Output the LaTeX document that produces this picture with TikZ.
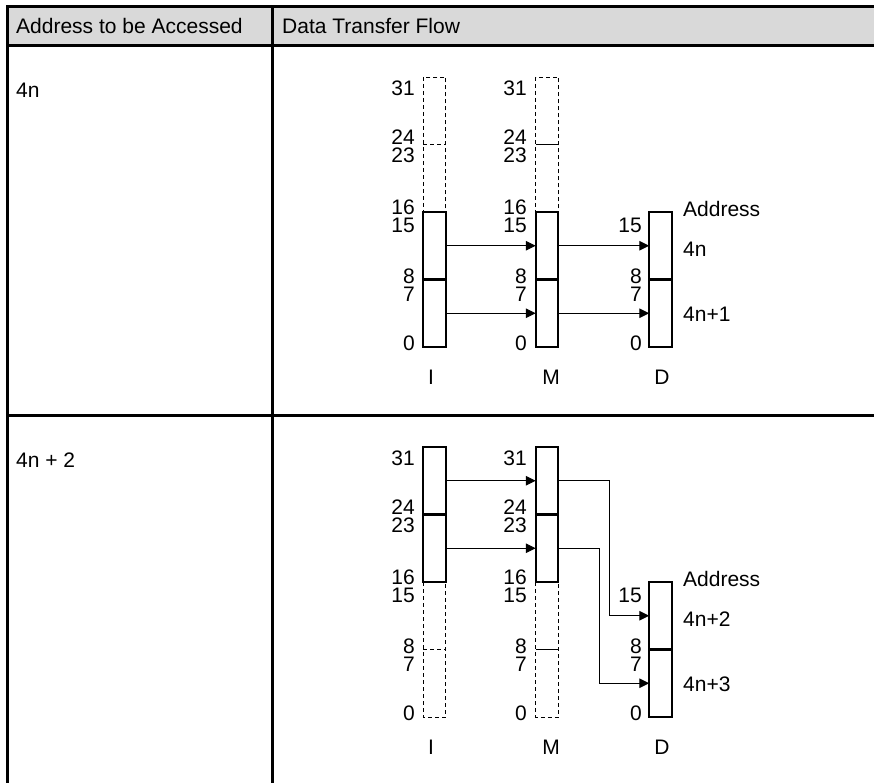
\documentclass[tikz,border=0pt]{standalone}
\usepackage{fontspec}
\setmainfont{Liberation Sans}
\usetikzlibrary{arrows.meta}
\definecolor{hdrgray}{HTML}{D9D9D9}
\begin{document}
\begin{tikzpicture}[x=1pt,y=-1pt,
  txt/.style={inner sep=0pt,font=\fontsize{21}{25}\selectfont},
  seg/.style={draw,line width=2.2pt,minimum width=22.5pt,minimum height=67.5pt,inner sep=0pt,outer sep=0pt},
  hseg/.style={draw=none,minimum width=22.5pt,minimum height=67.5pt,inner sep=0pt,outer sep=0pt},
  dln/.style={line width=0.9pt,dash pattern=on 4pt off 3pt},
  thinln/.style={line width=0.9pt},
  arr/.style={line width=1pt,-{Triangle[length=10pt,width=9.5pt]}},
  tline/.style={line width=3pt}]
\useasboundingbox (0,0) rectangle (874,783);
% table
\fill[hdrgray] (7,7) rectangle (880,45.5);
\draw[tline] (7,7) -- (880,7);
\draw[tline] (7,45.5) -- (880,45.5);
\draw[tline] (7,415) -- (880,415);
\draw[tline] (7,5.5) -- (7,790);
\draw[tline] (272,7) -- (272,790);
\node[txt,anchor=west] (h1) at (16,26) {Address to be Accessed};
\node[txt,anchor=west] (h2) at (282,26) {Data Transfer Flow};
\node[txt,anchor=west] (r1) at (16,90.5) {4n};
\node[txt,anchor=west] (r2) at (16,460) {4n + 2};

% ---------- row 1 ----------
\node[hseg] (I1d) at (434.5,110.75) {};
\node[hseg] (I1c) at (434.5,178.25) {};
\node[hseg] (M1d) at (547,110.75) {};
\node[hseg] (M1c) at (547,178.25) {};
\draw[dln] (I1d.north west) rectangle (I1c.south east);
\draw[dln] (I1d.south west) -- (I1d.south east);
\draw[dln] (M1d.north west) rectangle (M1c.south east);
\draw[thinln] (M1d.south west) -- (M1d.south east);
\node[seg] (I1b) at (434.5,245.75) {};
\node[seg] (I1a) at (434.5,313.25) {};
\node[seg] (M1b) at (547,245.75) {};
\node[seg] (M1a) at (547,313.25) {};
\node[seg] (D1b) at (660.5,245.75) {};
\node[seg] (D1a) at (660.5,313.25) {};
\draw[arr] (I1b.east) -- (M1b.west);
\draw[arr] (I1a.east) -- (M1a.west);
\draw[arr] (M1b.east) -- (D1b.west);
\draw[arr] (M1a.east) -- (D1a.west);
% bit labels row 1
\foreach \xx/\nm in {415/I,527/M}{
  \node[txt,anchor=east] (l31\nm) at (\xx,88) {31};
  \node[txt,anchor=east] (l24\nm) at (\xx,137) {24};
  \node[txt,anchor=east] (l23\nm) at (\xx,155.5) {23};
  \node[txt,anchor=east] (l16\nm) at (\xx,207.5) {16};
  \node[txt,anchor=east] (l15\nm) at (\xx,225.5) {15};
  \node[txt,anchor=east] (l8\nm) at (\xx,276.5) {8};
  \node[txt,anchor=east] (l7\nm) at (\xx,294.5) {7};
  \node[txt,anchor=east] (l0\nm) at (\xx,343) {0};
}
\node[txt,anchor=east] (l15D) at (642,225.5) {15};
\node[txt,anchor=east] (l8D) at (642,276.5) {8};
\node[txt,anchor=east] (l7D) at (642,294.5) {7};
\node[txt,anchor=east] (l0D) at (642,343) {0};
\node[txt,anchor=west] (ad1) at (683,208.5) {Address};
\node[txt,anchor=west] (a1) at (683,249.5) {4n};
\node[txt,anchor=west] (a2) at (683,314.5) {4n+1};
\node[txt] (nI1) at (431,377) {I};
\node[txt] (nM1) at (551,377) {M};
\node[txt] (nD1) at (662,377) {D};

% ---------- row 2 ----------
\node[hseg] (I2b) at (434.5,615.75) {};
\node[hseg] (I2a) at (434.5,683.25) {};
\node[hseg] (M2b) at (547,615.75) {};
\node[hseg] (M2a) at (547,683.25) {};
\draw[dln] (I2b.north west) rectangle (I2a.south east);
\draw[dln] (I2b.south west) -- (I2b.south east);
\draw[dln] (M2b.north west) rectangle (M2a.south east);
\draw[thinln] (M2b.south west) -- (M2b.south east);
\node[seg] (I2d) at (434.5,480.75) {};
\node[seg] (I2c) at (434.5,548.25) {};
\node[seg] (M2d) at (547,480.75) {};
\node[seg] (M2c) at (547,548.25) {};
\node[seg] (D2b) at (660.5,615.75) {};
\node[seg] (D2a) at (660.5,683.25) {};
\draw[arr] (I2d.east) -- (M2d.west);
\draw[arr] (I2c.east) -- (M2c.west);
\draw[arr] (M2d.east) -- ++(51,0) |- (D2b.west);
\draw[arr] (M2c.east) -- ++(41,0) |- (D2a.west);
\foreach \xx/\nm in {415/I,527/M}{
  \node[txt,anchor=east] (m31\nm) at (\xx,458) {31};
  \node[txt,anchor=east] (m24\nm) at (\xx,507) {24};
  \node[txt,anchor=east] (m23\nm) at (\xx,525.5) {23};
  \node[txt,anchor=east] (m16\nm) at (\xx,577.5) {16};
  \node[txt,anchor=east] (m15\nm) at (\xx,595.5) {15};
  \node[txt,anchor=east] (m8\nm) at (\xx,646.5) {8};
  \node[txt,anchor=east] (m7\nm) at (\xx,664.5) {7};
  \node[txt,anchor=east] (m0\nm) at (\xx,713) {0};
}
\node[txt,anchor=east] (m15D) at (642,595.5) {15};
\node[txt,anchor=east] (m8D) at (642,646.5) {8};
\node[txt,anchor=east] (m7D) at (642,664.5) {7};
\node[txt,anchor=east] (m0D) at (642,713) {0};
\node[txt,anchor=west] (ad2) at (683,578.5) {Address};
\node[txt,anchor=west] (b1) at (683,619.5) {4n+2};
\node[txt,anchor=west] (b2) at (683,684.5) {4n+3};
\node[txt] (nI2) at (431,747) {I};
\node[txt] (nM2) at (551,747) {M};
\node[txt] (nD2) at (662,747) {D};
\end{tikzpicture}
\end{document}
